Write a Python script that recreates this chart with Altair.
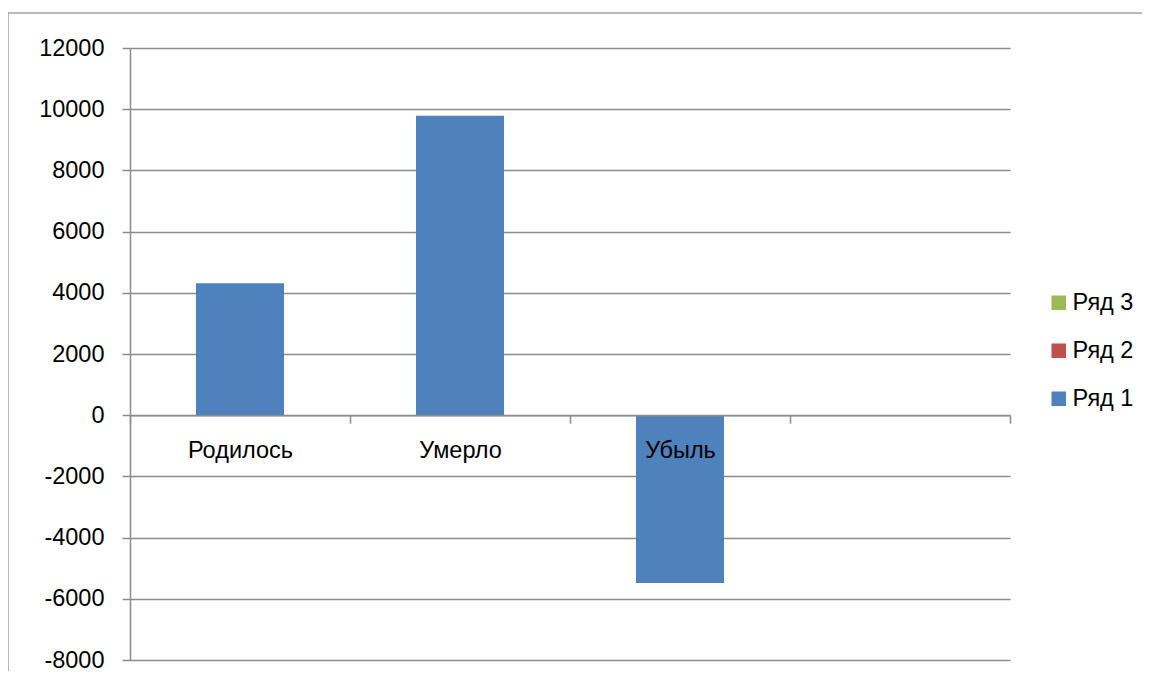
import altair as alt
import pandas as pd

categories = ["Родилось", "Умерло", "Убыль"]
values = [4310, 9790, -5480]
series_name = "Ряд 1"
x_domain = ["Родилось", "Умерло", "Убыль", " "]
legend_series = ["Ряд 3", "Ряд 2", "Ряд 1"]
legend_colors = ["#9BBB59", "#C0504D", "#4F81BD"]
y_ticks = [-8000, -6000, -4000, -2000, 0, 2000, 4000, 6000, 8000, 10000, 12000]

df = pd.DataFrame({"cat": categories, "val": values, "series": [series_name] * len(categories)})

FONT = "Liberation Sans"
FS = 23.5
GRID = "#8c8c8c"

bars = alt.Chart(df).mark_bar(size=88).encode(
    x=alt.X("cat:N", sort=x_domain,
            scale=alt.Scale(domain=x_domain, paddingInner=0, paddingOuter=0),
            axis=alt.Axis(title=None, labelAngle=0, tickBand="extent", tickSize=8,
                          ticks=True, domain=True, domainColor=GRID, tickColor=GRID,
                          domainWidth=1.5, tickWidth=1.5, grid=False,
                          labelFont=FONT, labelFontSize=FS, labelColor="black",
                          labelPadding=15, offset=-244.8, zindex=1)),
    y=alt.Y("val:Q", scale=alt.Scale(domain=[-8000, 12000], nice=False, zero=False),
            axis=alt.Axis(title=None, values=y_ticks, labelExpr="'' + datum.value",
                          tickSize=8, tickColor=GRID, tickWidth=1.5,
                          domainColor=GRID, domainWidth=1.5,
                          grid=True, gridColor=GRID, gridWidth=1.5,
                          labelFont=FONT, labelFontSize=FS, labelColor="black",
                          labelPadding=18)),
    color=alt.Color("series:N",
                    scale=alt.Scale(domain=legend_series, range=legend_colors),
                    legend=alt.Legend(title=None, orient="none", legendX=917, legendY=243,
                                      symbolType="square", symbolSize=210,
                                      symbolStrokeWidth=0,
                                      labelFont=FONT, labelFontSize=FS, labelColor="black",
                                      labelOffset=2, rowPadding=23)),
)

frame_data = alt.Data(values=[{"a": 1}])
frame_left = alt.Chart(frame_data).mark_rule(color="#a0a0a0", strokeWidth=1.5).encode(
    x=alt.value(-122), y=alt.value(-35), y2=alt.value(720))
frame_top = alt.Chart(frame_data).mark_rule(color="#a0a0a0", strokeWidth=1.5).encode(
    x=alt.value(-122), x2=alt.value(1200), y=alt.value(-35))

chart = alt.layer(bars, frame_left, frame_top).properties(
    width=880, height=612,
    autosize=alt.AutoSizeParams(type="none"),
    padding={"left": 122, "top": 40, "right": 132, "bottom": 11},
).configure_view(stroke=None)

chart.save("out.html", embed_options={"renderer": "svg", "actions": False})
